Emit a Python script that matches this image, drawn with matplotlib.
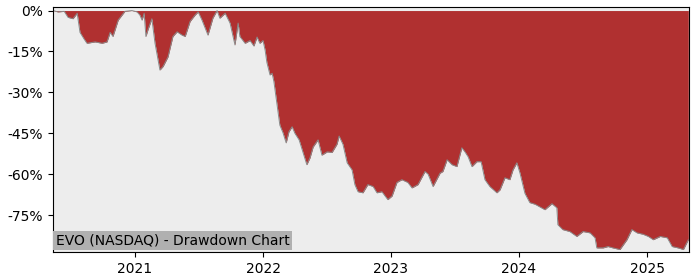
import matplotlib
matplotlib.use("Agg")
import matplotlib.pyplot as plt
import matplotlib.dates as mdates
from matplotlib.ticker import FuncFormatter
import numpy as np
import pandas as pd

# drawdown values, in percent
dates = [
    "2020-05-12", "2020-05-26", "2020-06-13", "2020-06-24", "2020-07-08", "2020-07-20",
    "2020-07-28", "2020-08-09", "2020-08-17", "2020-09-09", "2020-09-29", "2020-10-13",
    "2020-10-22", "2020-10-30", "2020-11-14", "2020-12-03", "2020-12-23", "2021-01-07",
    "2021-01-15", "2021-01-21", "2021-01-27", "2021-02-01", "2021-02-07", "2021-02-18",
    "2021-02-27", "2021-03-13", "2021-03-22", "2021-04-05", "2021-04-19", "2021-05-01",
    "2021-05-15", "2021-05-24", "2021-06-07", "2021-06-21", "2021-06-30", "2021-07-11",
    "2021-07-28", "2021-08-11", "2021-08-23", "2021-08-31", "2021-09-15", "2021-09-29",
    "2021-10-13", "2021-10-22", "2021-10-27", "2021-11-11", "2021-11-25", "2021-12-06",
    "2021-12-15", "2021-12-23", "2022-01-01", "2022-01-07", "2022-01-12", "2022-01-21",
    "2022-01-27", "2022-02-01", "2022-02-10", "2022-02-18", "2022-02-27", "2022-03-08",
    "2022-03-16", "2022-03-25", "2022-04-02", "2022-04-14", "2022-04-25", "2022-05-06",
    "2022-05-15", "2022-05-24", "2022-06-07", "2022-06-18", "2022-07-03", "2022-07-17",
    "2022-07-31", "2022-08-06", "2022-08-17", "2022-08-29", "2022-09-12", "2022-09-20",
    "2022-09-29", "2022-10-13", "2022-10-27", "2022-11-11", "2022-11-22", "2022-12-06",
    "2022-12-23", "2023-01-04", "2023-01-18", "2023-02-01", "2023-02-18", "2023-03-02",
    "2023-03-19", "2023-04-08", "2023-04-17", "2023-05-01", "2023-05-21", "2023-05-29",
    "2023-06-10", "2023-06-24", "2023-07-08", "2023-07-22", "2023-07-31", "2023-08-09",
    "2023-08-20", "2023-09-03", "2023-09-15", "2023-09-26", "2023-10-10", "2023-10-30",
    "2023-11-08", "2023-11-22", "2023-12-06", "2023-12-15", "2023-12-26", "2024-01-04",
    "2024-01-18", "2024-02-01", "2024-02-16", "2024-03-01", "2024-03-15", "2024-04-04",
    "2024-04-18", "2024-04-21", "2024-05-05", "2024-05-25", "2024-06-14", "2024-07-02",
    "2024-07-22", "2024-08-05", "2024-08-10", "2024-08-28", "2024-09-11", "2024-09-25",
    "2024-10-15", "2024-11-04", "2024-11-18", "2024-12-03", "2024-12-20", "2025-01-04",
    "2025-01-18", "2025-02-07", "2025-02-27", "2025-03-13", "2025-03-30", "2025-04-14",
    "2025-04-28",
]
drawdown = [
    0.0, -0.5, -0.3, -2.5, -3.0, -1.0,
    -8.0, -10.5, -12.0, -11.5, -12.0, -11.5,
    -8.0, -9.5, -3.5, -0.3, 0.0, -0.5,
    -1.7, -3.5, -1.0, -9.5, -7.0, -3.0,
    -12.0, -21.8, -20.5, -17.0, -9.5, -7.8,
    -9.0, -9.5, -4.0, -1.7, -0.5, -3.5,
    -9.0, -2.8, 0.0, -2.8, -1.0, -4.6,
    -12.6, -4.6, -9.5, -12.0, -11.0, -13.0,
    -9.7, -12.0, -11.0, -14.5, -19.0, -23.6,
    -23.0, -26.0, -34.5, -42.0, -44.8, -48.5,
    -44.4, -42.6, -45.0, -47.4, -52.0, -56.5,
    -54.0, -50.0, -47.4, -53.0, -51.8, -52.0,
    -49.0, -46.0, -49.0, -55.8, -58.4, -63.8,
    -66.4, -66.8, -63.8, -64.5, -66.8, -66.4,
    -69.3, -68.0, -63.0, -62.0, -63.0, -65.0,
    -63.8, -59.0, -60.0, -64.5, -59.6, -59.0,
    -54.7, -56.5, -57.2, -50.3, -51.8, -53.6,
    -57.2, -55.4, -55.4, -62.0, -64.5, -66.8,
    -65.7, -61.3, -62.0, -58.4, -55.8, -59.6,
    -67.0, -70.4, -71.0, -72.0, -73.0, -70.8,
    -72.3, -78.5, -80.3, -81.0, -82.8, -81.0,
    -81.5, -83.3, -87.0, -87.0, -86.5, -87.0,
    -87.6, -84.0, -80.3, -81.5, -82.0, -82.8,
    -84.0, -82.8, -83.3, -86.5, -87.0, -87.6,
    -84.0,
]
yticks = [0, -15, -30, -45, -60, -75]
label = "EVO (NASDAQ) - Drawdown Chart"

x = pd.to_datetime(dates)
dd = np.array(drawdown) / 100.0

fig = plt.figure(figsize=(7, 2.8), dpi=100)
ax = fig.add_axes([0.0757, 0.1, 0.9086, 0.875])
ax.set_facecolor("#ededed")

# red area between zero and the drawdown curve
ax.fill_between(x, dd, 0, color="#b03030", linewidth=0)
ax.plot(x, dd, color="#8a8a8a", linewidth=0.7)

ax.set_xlim(pd.Timestamp("2020-05-12"), pd.Timestamp("2025-04-30"))
ax.set_ylim(-0.885, 0.013)
ax.set_yticks([v / 100 for v in yticks])
ax.yaxis.set_major_formatter(FuncFormatter(lambda v, p: f"{v * 100:.0f}%"))
ax.xaxis.set_major_locator(mdates.YearLocator())
ax.xaxis.set_major_formatter(mdates.DateFormatter("%Y"))

ax.text(0.004, 0.018, label, transform=ax.transAxes, fontsize=10,
        ha="left", va="bottom",
        bbox=dict(facecolor="#b0b0b0", edgecolor="none", pad=2))

fig.savefig("out.png")
